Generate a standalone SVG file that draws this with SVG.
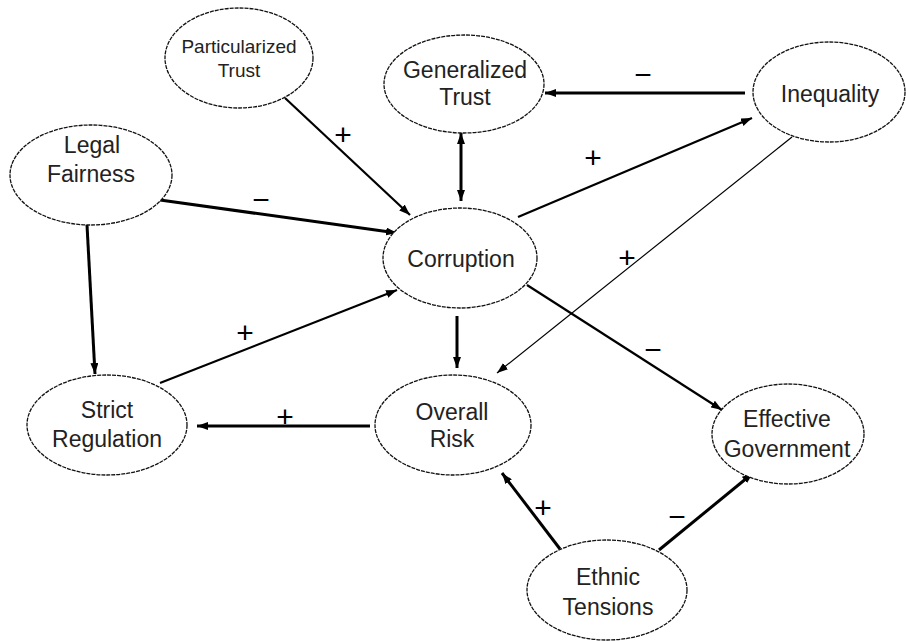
<svg xmlns="http://www.w3.org/2000/svg" width="906" height="641" viewBox="0 0 906 641">
<defs>
<marker id="ah" markerUnits="userSpaceOnUse" markerWidth="11" markerHeight="8" refX="11" refY="4" orient="auto-start-reverse"><path d="M0,0 L11,4 L0,8 z" fill="#000"/></marker>
<style>
.node ellipse{fill:#fff;stroke:#111;stroke-width:1.3;stroke-dasharray:4 1}
.node text{font-family:"Liberation Sans",Arial,sans-serif;font-size:23px;fill:#222;text-anchor:middle}
.node text.small{font-size:19px}
.edge line{stroke:#000;fill:none;marker-end:url(#ah)}
.thick{stroke-width:3}
.mid{stroke-width:2.2}
.thin{stroke-width:1.2}
.lbl{font-family:"Liberation Sans",Arial,sans-serif;font-size:30px;fill:#000;text-anchor:middle}
</style>
</defs>
<rect width="906" height="641" fill="#fff"/>
<g id="connectors" class="edge">
<line class="mid" x1="285" y1="98" x2="410" y2="215"/>
<line class="thick" x1="160" y1="200" x2="397" y2="233"/>
<line class="thick" x1="461" y1="133" x2="461" y2="201" style="marker-start:url(#ah)"/>
<line class="thick" x1="745" y1="93" x2="545" y2="93"/>
<line class="mid" x1="518" y1="217" x2="752" y2="118"/>
<line class="thin" x1="792" y1="137" x2="497" y2="373"/>
<line class="thick" x1="457" y1="316" x2="457" y2="368"/>
<line class="mid" x1="527" y1="285" x2="722" y2="410"/>
<line class="thick" x1="87" y1="225" x2="95" y2="374"/>
<line class="mid" x1="160" y1="383" x2="397" y2="290"/>
<line class="thick" x1="370" y1="426" x2="197" y2="426"/>
<line class="thick" x1="560" y1="549" x2="502" y2="473"/>
<line class="thick" x1="659" y1="550" x2="753" y2="473"/>
</g>
<g id="labels">
<text class="lbl" x="343" y="145">+</text>
<text class="lbl" x="261" y="210">−</text>
<text class="lbl" x="643" y="85">−</text>
<text class="lbl" x="593" y="168">+</text>
<text class="lbl" x="627" y="268">+</text>
<text class="lbl" x="653" y="360">−</text>
<text class="lbl" x="245" y="343">+</text>
<text class="lbl" x="285" y="427">+</text>
<text class="lbl" x="543" y="518">+</text>
<text class="lbl" x="677" y="527">−</text>
</g>
<g id="particularized-trust" class="node"><ellipse cx="239" cy="58" rx="74" ry="50"/><text class="small" x="239" y="53">Particularized</text><text class="small" x="239" y="77">Trust</text></g>
<g id="generalized-trust" class="node"><ellipse cx="464" cy="84" rx="80" ry="49"/><text x="465" y="78">Generalized</text><text x="465" y="105">Trust</text></g>
<g id="inequality" class="node"><ellipse cx="829" cy="92" rx="76" ry="50"/><text x="830" y="102">Inequality</text></g>
<g id="legal-fairness" class="node"><ellipse cx="91" cy="175" rx="81" ry="50"/><text x="92" y="153">Legal</text><text x="91" y="182">Fairness</text></g>
<g id="corruption" class="node"><ellipse cx="460" cy="258" rx="77" ry="50"/><text x="461" y="267">Corruption</text></g>
<g id="strict-regulation" class="node"><ellipse cx="107" cy="425" rx="80" ry="50"/><text x="107" y="418">Strict</text><text x="107" y="447">Regulation</text></g>
<g id="overall-risk" class="node"><ellipse cx="453" cy="425" rx="78" ry="50"/><text x="452" y="420">Overall</text><text x="452" y="447">Risk</text></g>
<g id="effective-government" class="node"><ellipse cx="788" cy="434" rx="76" ry="50"/><text x="787" y="427">Effective</text><text x="787" y="457">Government</text></g>
<g id="ethnic-tensions" class="node"><ellipse cx="607" cy="590" rx="80" ry="50"/><text x="608" y="585">Ethnic</text><text x="608" y="615">Tensions</text></g>
</svg>
